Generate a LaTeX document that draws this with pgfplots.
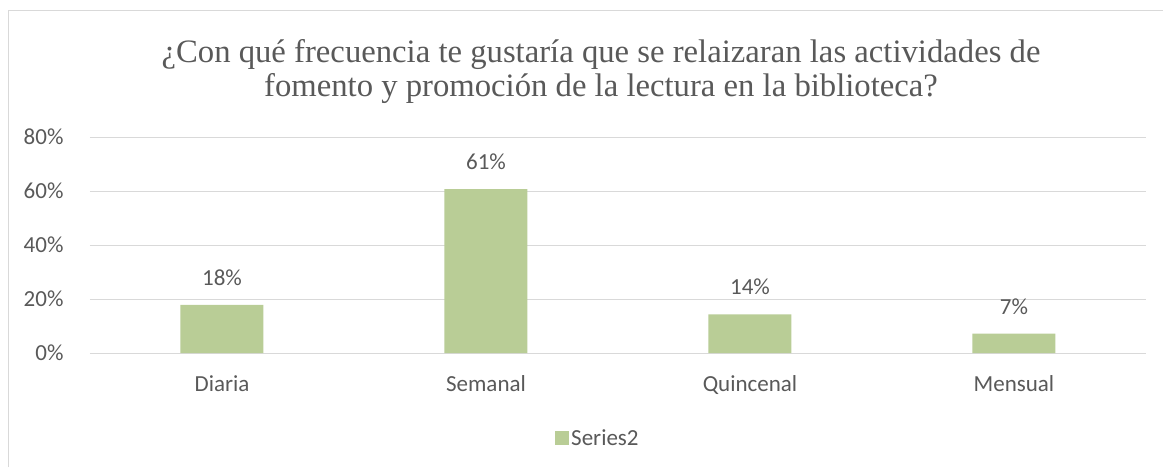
\documentclass[border=0pt]{standalone}
\usepackage{fontspec}
\setmainfont{Carlito}
\newfontfamily\titlefont{Liberation Serif}
\usepackage{pgfplots}
\pgfplotsset{compat=1.18}

\definecolor{bargreen}{HTML}{B9CD96}
\definecolor{txtgray}{HTML}{595959}
\definecolor{gridgray}{HTML}{D9D9D9}

\begin{document}
\begin{tikzpicture}[x=1pt,y=1pt]
\useasboundingbox (0,0) rectangle (1163,-467);
% chart frame (only top and left edges visible)
\draw[gridgray, line width=1.2pt] (8.5,-467) -- (8.5,-10.5) -- (1163,-10.5);
% title
\node[anchor=base, text=txtgray, font=\titlefont\fontsize{32.7}{36}\selectfont]
  at (601,-62) {¿Con qué frecuencia te gustaría que se relaizaran las actividades de};
\node[anchor=base, text=txtgray, font=\titlefont\fontsize{32.7}{36}\selectfont]
  at (601,-96) {fomento y promoción de la lectura en la biblioteca?};

\begin{axis}[
    at={(90pt,-353pt)}, anchor=south west,
    scale only axis,
    width=1056pt, height=216pt,
    xmin=-0.5, xmax=3.5,
    ymin=0, ymax=80,
    ybar, bar width=83pt,
    xtick=data,
    xticklabels={Diaria,Semanal,Quincenal,Mensual},
    ytick={0,20,40,60,80},
    yticklabel={\pgfmathprintnumber{\tick}\%},
    /pgf/number format/assume math mode=true,
    major tick length=0pt,
    ymajorgrids,
    grid style={draw=gridgray, line width=1pt},
    axis line style={draw=none},
    tick label style={text=txtgray, font=\fontsize{23}{27}\selectfont},
    yticklabel style={anchor=base east, xshift=-23pt, yshift=-7.5pt},
    xticklabel style={anchor=base, yshift=-38pt},
    nodes near coords={\pgfmathprintnumber[fixed,precision=0]{\pgfplotspointmeta}\%},
    every node near coord/.append style={anchor=base, yshift=19.5pt,
        text=txtgray, font=\fontsize{23}{27}\selectfont},
    legend style={at={(0.481,-0.394)}, anchor=center, draw=none,
        font=\fontsize{23}{27}\selectfont, text=txtgray,
        legend cell align=left, inner sep=0pt},
    legend image code/.code={
        \fill[bargreen] (0pt,-7pt) rectangle (14pt,7pt);},
]
\addplot[fill=bargreen, draw=none] coordinates {
    (0,17.86) (1,60.71) (2,14.29) (3,7.14)
};
\addlegendentry{Series2}
\end{axis}
\end{tikzpicture}
\end{document}
